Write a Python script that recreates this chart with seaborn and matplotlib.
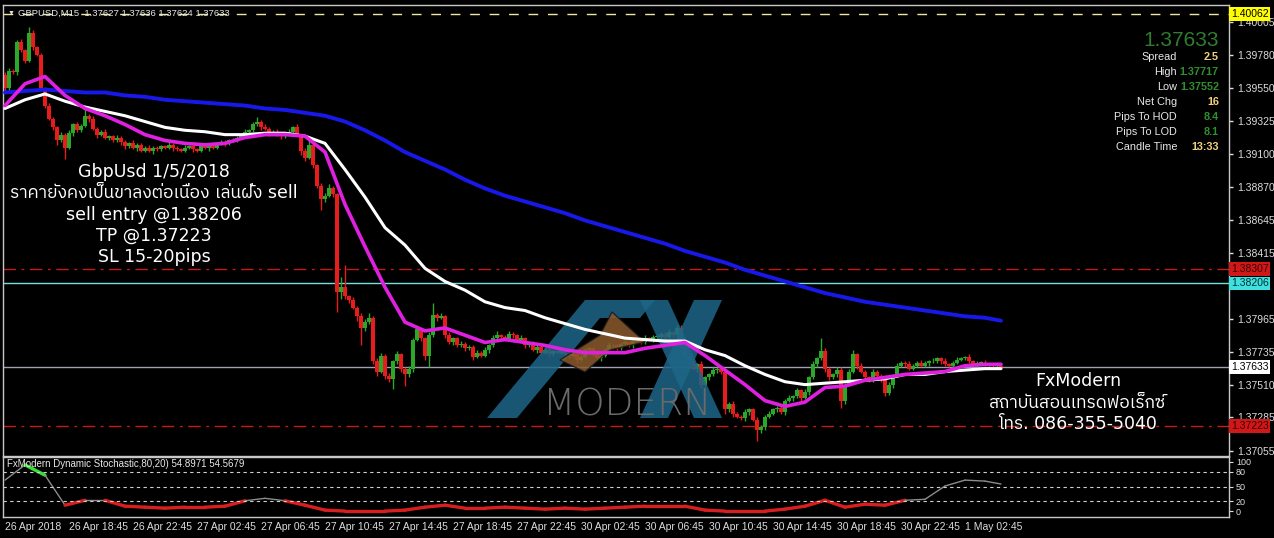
import numpy as np
import pandas as pd
import matplotlib
matplotlib.use('Agg')
import matplotlib.pyplot as plt
from matplotlib import font_manager, ft2font
from matplotlib.patches import Polygon
import seaborn as sns

# ---------------- data ----------------
first_open = 1.3964
closes = [
    1.3955, 1.3967, 1.3966, 1.3987, 1.3981, 1.3974, 1.3993, 1.3983, 1.3978, 1.3955,
    1.3943, 1.3934, 1.3928, 1.3919, 1.3923, 1.3914, 1.3924, 1.3930, 1.3926, 1.3929,
    1.3936, 1.3934, 1.3927, 1.3923, 1.3925, 1.3921, 1.3922, 1.3919, 1.3921, 1.3918,
    1.3915, 1.3917, 1.3914, 1.3916, 1.3912, 1.3914, 1.3912, 1.3914, 1.3913, 1.3915,
    1.3914, 1.3916, 1.3914, 1.3913, 1.3912, 1.3914, 1.3915, 1.3913, 1.3912, 1.3915,
    1.3914, 1.3916, 1.3914, 1.3917, 1.3918, 1.3917, 1.3919, 1.3919, 1.3921, 1.3922,
    1.3925, 1.3926, 1.3930, 1.3932, 1.3928, 1.3927, 1.3924, 1.3925, 1.3923, 1.3922,
    1.3924, 1.3925, 1.3928, 1.3923, 1.3912, 1.3907, 1.3916, 1.3902, 1.3888, 1.3879,
    1.3881, 1.3886, 1.3882, 1.3815, 1.3818, 1.3812, 1.3809, 1.3804, 1.3798, 1.3790,
    1.3794, 1.3797, 1.3767, 1.3760, 1.3771, 1.3757, 1.3755, 1.3767, 1.3772, 1.3762,
    1.3758, 1.3762, 1.3782, 1.3789, 1.3783, 1.3771, 1.3785, 1.3799, 1.3797, 1.3798,
    1.3785, 1.3780, 1.3783, 1.3778, 1.3779, 1.3776, 1.3777, 1.3770, 1.3773, 1.3771,
    1.3775, 1.3778, 1.3783, 1.3785, 1.3784, 1.3782, 1.3786, 1.3785, 1.3782, 1.3783,
    1.3778, 1.3779, 1.3775, 1.3777, 1.3773, 1.3775, 1.3772, 1.3774, 1.3773, 1.3775,
    1.3772, 1.3771, 1.3772, 1.3768, 1.3770, 1.3775, 1.3776, 1.3772, 1.3769, 1.3771,
    1.3775, 1.3778, 1.3778, 1.3776, 1.3779, 1.3780, 1.3778, 1.3781, 1.3782, 1.3780,
    1.3783, 1.3782, 1.3784, 1.3784, 1.3786, 1.3784, 1.3787, 1.3785, 1.3790, 1.3778,
    1.3771, 1.3767, 1.3762, 1.3765, 1.3751, 1.3756, 1.3758, 1.3761, 1.3762, 1.3760,
    1.3734, 1.3738, 1.3731, 1.3729, 1.3728, 1.3732, 1.3734, 1.3727, 1.3720, 1.3722,
    1.3729, 1.3731, 1.3734, 1.3735, 1.3732, 1.3740, 1.3742, 1.3743, 1.3747, 1.3742,
    1.3746, 1.3756, 1.3765, 1.3769, 1.3774, 1.3762, 1.3756, 1.3758, 1.3761, 1.3740,
    1.3751, 1.3760, 1.3772, 1.3764, 1.3760, 1.3756, 1.3754, 1.3760, 1.3757, 1.3754,
    1.3745, 1.3751, 1.3757, 1.3764, 1.3766, 1.3765, 1.3762, 1.3764, 1.3766, 1.3764,
    1.3766, 1.3767, 1.3767, 1.3769, 1.3767, 1.3765, 1.3764, 1.3766, 1.3768, 1.3769,
    1.3770, 1.3767, 1.3765, 1.3766, 1.3766, 1.3765, 1.3765, 1.3764, 1.3764, 1.37633,
]
# wick lengths beyond the body, in pips
upper_wick = [
    2, 2, 1, 1, 2, 1, 4, 2, 1, 1,  1, 2, 1, 1, 2, 1, 2, 1, 2, 1,
    6, 1, 2, 1, 1, 2, 1, 1, 2, 1,  1, 1, 2, 1, 1, 1, 2, 1, 1, 1,
    1, 2, 1, 1, 1, 2, 1, 1, 1, 2,  1, 1, 2, 1, 1, 1, 1, 2, 1, 1,
    2, 1, 2, 3, 1, 2, 1, 1, 2, 1,  1, 2, 1, 2, 1, 2, 3, 3, 1, 2,
    2, 3, 2, 1, 7, 15, 1, 2, 1, 2, 2, 3, 1, 2, 2, 1, 2, 1, 2, 1,
    1, 2, 1, 2, 1, 1, 2, 8, 1, 2,  1, 2, 1, 1, 2, 1, 1, 1, 2, 1,
    2, 1, 2, 3, 1, 1, 2, 1, 1, 2,  1, 1, 2, 1, 1, 2, 1, 1, 1, 2,
    1, 1, 2, 1, 2, 1, 1, 1, 2, 1,  1, 2, 1, 1, 1, 2, 1, 1, 1, 1,
    2, 1, 1, 2, 1, 1, 2, 1, 2, 2,  2, 1, 2, 1, 2, 1, 1, 2, 1, 1,
    2, 1, 2, 1, 1, 2, 1, 1, 2, 1,  1, 2, 1, 1, 2, 1, 2, 1, 2, 1,
    2, 1, 2, 1, 9, 2, 1, 1, 2, 2,  1, 2, 3, 1, 2, 1, 1, 2, 1, 1,
    1, 2, 1, 2, 1, 1, 2, 1, 1, 2,  1, 1, 2, 1, 1, 2, 1, 1, 2, 1,
    1, 2, 1, 1, 1, 2, 1, 1, 1, 1,
]
lower_wick = [
    3, 2, 1, 2, 1, 2, 1, 2, 1, 2,  2, 1, 2, 3, 1, 8, 1, 2, 1, 1,
    1, 2, 1, 2, 1, 1, 2, 1, 1, 2,  2, 1, 1, 2, 1, 1, 1, 2, 1, 1,
    1, 1, 2, 1, 1, 1, 1, 2, 1, 1,  1, 2, 1, 1, 1, 2, 1, 1, 1, 1,
    1, 1, 1, 1, 2, 1, 2, 1, 1, 2,  1, 1, 2, 1, 3, 2, 1, 2, 2, 8,
    2, 1, 2, 14, 5, 2, 2, 1, 3, 12, 2, 1, 2, 3, 1, 2, 2, 7, 2, 2,
    8, 2, 2, 1, 2, 3, 8, 1, 2, 1,  2, 1, 2, 1, 1, 2, 1, 2, 1, 1,
    1, 2, 1, 1, 2, 1, 1, 2, 1, 1,  2, 1, 1, 2, 1, 1, 2, 1, 1, 1,
    1, 2, 1, 2, 1, 1, 2, 1, 1, 2,  1, 1, 2, 1, 1, 1, 1, 2, 1, 1,
    1, 1, 2, 1, 1, 2, 1, 1, 1, 2,  2, 2, 1, 2, 2, 1, 2, 1, 2, 2,
    3, 2, 2, 1, 1, 2, 2, 1, 8, 2,  2, 1, 1, 2, 1, 2, 1, 2, 1, 2,
    1, 2, 1, 2, 1, 2, 2, 1, 2, 5,  2, 1, 1, 2, 1, 2, 1, 1, 2, 1,
    2, 1, 2, 1, 1, 2, 1, 1, 1, 1,  1, 2, 1, 1, 2, 1, 1, 2, 1, 1,
    1, 1, 1, 2, 1, 1, 1, 2, 1, 1,
]

# moving averages, read every 5 bars
ma_idx = list(range(0, 250, 5)) + [249]
ma_blue = [
    1.3952, 1.3953, 1.3954, 1.3953, 1.3952, 1.3952, 1.3950, 1.3949, 1.3947, 1.3946,
    1.3945, 1.3944, 1.3943, 1.3941, 1.3940, 1.3938, 1.3936, 1.3932, 1.3926, 1.3919,
    1.3911, 1.3905, 1.3899, 1.3892, 1.3886, 1.3881, 1.3877, 1.3873, 1.3869, 1.3864,
    1.3860, 1.3856, 1.3852, 1.3848, 1.3843, 1.3839, 1.3835, 1.3830, 1.3826, 1.3822,
    1.3818, 1.3814, 1.3811, 1.3808, 1.3806, 1.3804, 1.3802, 1.3800, 1.3798, 1.3797,
    1.3795,
]
ma_white = [
    1.3941, 1.3947, 1.3951, 1.3946, 1.3942, 1.3939, 1.3936, 1.3932, 1.3928, 1.3926,
    1.3925, 1.3923, 1.3923, 1.3924, 1.3924, 1.3922, 1.3917, 1.3899, 1.3880, 1.3859,
    1.3847, 1.3831, 1.3822, 1.3816, 1.3808, 1.3804, 1.3802, 1.3797, 1.3793, 1.3789,
    1.3786, 1.3783, 1.3782, 1.3781, 1.3781, 1.3775, 1.3771, 1.3764, 1.3758, 1.3753,
    1.3751, 1.3752, 1.3753, 1.3754, 1.3755, 1.3758, 1.3758, 1.3760, 1.3761, 1.3762,
    1.3762,
]
ma_magenta = [
    1.3943, 1.3958, 1.3963, 1.3950, 1.3941, 1.3936, 1.3930, 1.3923, 1.3919, 1.3917,
    1.3916, 1.3917, 1.3921, 1.3923, 1.3923, 1.3922, 1.3911, 1.3875, 1.3846, 1.3818,
    1.3794, 1.3788, 1.3790, 1.3785, 1.3780, 1.3782, 1.3780, 1.3778, 1.3775, 1.3773,
    1.3773, 1.3773, 1.3776, 1.3778, 1.3780, 1.3771, 1.3761, 1.3751, 1.3740, 1.3736,
    1.3739, 1.3749, 1.3750, 1.3754, 1.3756, 1.3758, 1.3759, 1.3760, 1.3764, 1.3765,
    1.3765,
]
stoch = [
    63, 94, 73, 12, 22, 22, 10, 8, 6, 8,
    8, 10, 21, 26, 21, 12, 2, 0, 0, 0,
    2, 8, 12, 6, 6, 8, 6, 4, 6, 4,
    6, 8, 10, 10, 10, 2, 0, 0, 0, 4,
    10, 22, 8, 14, 12, 22, 24, 51, 63, 61,
    55,
]

time_idx = list(range(0, 241, 16))
time_labels = ['26 Apr 2018', '26 Apr 18:45', '26 Apr 22:45', '27 Apr 02:45',
               '27 Apr 06:45', '27 Apr 10:45', '27 Apr 14:45', '27 Apr 18:45',
               '27 Apr 22:45', '30 Apr 02:45', '30 Apr 06:45', '30 Apr 10:45',
               '30 Apr 14:45', '30 Apr 18:45', '30 Apr 22:45', '1 May 02:45']
price_ticks = [1.40005, 1.39780, 1.39550, 1.39325, 1.39100, 1.38870, 1.38645,
               1.38415, 1.37965, 1.37735, 1.37510, 1.37285, 1.37055]
high_line, entry_line, bid_line = 1.40062, 1.38206, 1.37633
sl_line, tp_line = 1.38307, 1.37223

info_labels = ['Spread', 'High', 'Low', 'Net Chg', 'Pips To HOD', 'Pips To LOD', 'Candle Time']
info_values = ['2.5', '1.37717', '1.37552', '16', '8.4', '8.1', '13:33']
info_colors = ['#f0d27a', '#2f8f2f', '#2f8f2f', '#f0d27a', '#2f8f2f', '#2f8f2f', '#f0d27a']

# ---------------- style ----------------
sns.set_style('dark', {'axes.facecolor': 'black', 'figure.facecolor': 'black',
                       'axes.edgecolor': '#c8c8c8', 'axes.grid': False,
                       'xtick.color': '#dcdcdc', 'ytick.color': '#dcdcdc',
                       'text.color': 'white'})
plt.rcParams['font.family'] = ['Liberation Sans', 'DejaVu Sans']

# find a font that has Thai glyphs
thai_family = None
fonts = sorted(font_manager.fontManager.ttflist, key=lambda f: 'Thai' not in f.name)
for fe in fonts:
    try:
        if 0x0E01 in ft2font.FT2Font(fe.fname).get_charmap():
            thai_family = fe.name
            break
    except Exception:
        pass
ann_family = ['DejaVu Sans'] + ([thai_family] if thai_family else [])

W, H = 1274, 538
fig = plt.figure(figsize=(W / 100, H / 100), dpi=100)


def px_box(x0, y0, x1, y1):
    return [x0 / W, 1 - y1 / H, (x1 - x0) / W, (y1 - y0) / H]


ax = fig.add_axes(px_box(3, 5, 1229, 456))
ax2 = fig.add_axes(px_box(3, 457, 1229, 517))

# ---------------- candles ----------------
n = len(closes)
idx = np.arange(n)
c = np.array(closes)
o = np.r_[first_open, c[:-1]]
hi = np.maximum(o, c) + np.array(upper_wick) * 1e-4
lo = np.minimum(o, c) - np.array(lower_wick) * 1e-4
cols = np.where(c >= o, '#2aa82a', '#e81c1c')
ax.vlines(idx, lo, hi, colors=cols, lw=1, zorder=2)
ax.bar(idx, np.maximum(np.abs(c - o), 0.00003), bottom=np.minimum(o, c),
       width=0.78, color=cols, lw=0, zorder=2)

# ---------------- moving averages ----------------
ma = pd.DataFrame({'idx': ma_idx, 'blue': ma_blue, 'white': ma_white, 'magenta': ma_magenta})
sns.lineplot(data=ma, x='idx', y='blue', color='#1818e8', lw=2.8, ax=ax, zorder=4)
sns.lineplot(data=ma, x='idx', y='white', color='white', lw=2.2, ax=ax, zorder=5)
sns.lineplot(data=ma, x='idx', y='magenta', color='#e020e0', lw=2.6, ax=ax, zorder=6)

# ---------------- horizontal levels ----------------
ax.axhline(high_line, color='#eee6a8', lw=1, ls=(0, (7, 7)), zorder=1)
ax.axhline(sl_line, color='#c81818', lw=1, ls=(0, (9, 4, 2, 4)), zorder=1)
ax.axhline(tp_line, color='#c81818', lw=1, ls=(0, (9, 4, 2, 4)), zorder=1)
ax.axhline(entry_line, color='#7adede', lw=1, zorder=1)
ax.axhline(bid_line, color='#a0a0b4', lw=1, zorder=1)

ax.set_xlim(-0.5, 306)
ax.set_ylim(1.37019, 1.40122)
ax.set_xticks([])
ax.set_xlabel('')
ax.set_ylabel('')
ax.yaxis.tick_right()
ax.set_yticks(price_ticks)
ax.set_yticklabels([f'{p:.5f}' for p in price_ticks])
ax.tick_params(axis='y', length=3, width=1, pad=3, labelsize=7.5, colors='#dcdcdc')
for s in ax.spines.values():
    s.set_color('#c8c8c8')
    s.set_linewidth(1)

# price flags on the right scale
ytr = ax.get_yaxis_transform()
for val, fc, tc in [(high_line, '#ffff00', 'black'), (sl_line, '#d01818', '#3a0000'),
                    (entry_line, '#3ee0e0', '#003030'), (bid_line, 'white', 'black'),
                    (tp_line, '#d01818', '#3a0000')]:
    ax.text(1.0015, val, f'{val:.5f}', transform=ytr, ha='left', va='center',
            fontsize=7.5, color=tc, clip_on=False, zorder=10,
            bbox=dict(boxstyle='square,pad=0.18', fc=fc, ec='none'))

# ---------------- watermark logo ----------------
def px_poly(points, **kw):
    pts = [(x / W, 1 - y / H) for x, y in points]
    ax.add_patch(Polygon(pts, closed=True, transform=fig.transFigure, **kw))


px_poly([(487, 418), (517, 418), (600, 318), (640, 318), (655, 300), (585, 300)],
        fc='#1d6688', ec='none', alpha=0.85, zorder=3)
px_poly([(640, 300), (668, 300), (722, 418), (694, 418)], fc='#1d6688', ec='none', alpha=0.85, zorder=3)
px_poly([(694, 300), (722, 300), (668, 418), (640, 418)], fc='#1d6688', ec='none', alpha=0.85, zorder=3)
px_poly([(560, 360), (600, 335), (612, 312), (645, 342), (610, 350), (585, 372)],
        fc='#8a5a2c', ec='#1a1a1a', alpha=0.85, zorder=3)
fig.text(627 / W, 1 - 405 / H, 'MODERN', ha='center', va='center', fontsize=27,
         color='#6a6a6a', family='DejaVu Sans', fontweight='light')

# ---------------- stochastic panel ----------------
sx = np.array(ma_idx)
sv = np.array(stoch, dtype=float)
for k in range(len(sx) - 1):
    m = (sv[k] + sv[k + 1]) / 2
    if m > 80:
        col, lw = '#35e035', 2.4
    elif m < 20:
        col, lw = '#d81e1e', 2.4
    else:
        col, lw = '#8c8c8c', 1.0
    ax2.plot(sx[k:k + 2], sv[k:k + 2], color=col, lw=lw, solid_capstyle='round')
for lvl in (80, 50, 20):
    ax2.axhline(lvl, color='#cfcfcf', lw=0.8, ls=(0, (3, 3)))
ax2.set_xlim(-0.5, 306)
ax2.set_ylim(-12, 110)
ax2.yaxis.tick_right()
ax2.set_yticks([100, 80, 50, 20, 0])
ax2.set_yticklabels(['100', '80', '50', '20', '0'])
ax2.tick_params(axis='y', length=3, pad=2, labelsize=6.5, colors='#dcdcdc')
ax2.set_xticks(time_idx)
ax2.set_xticklabels(time_labels, ha='left')
ax2.tick_params(axis='x', length=3, pad=0.5, labelsize=7.5, colors='#dcdcdc')
for s in ax2.spines.values():
    s.set_color('#c8c8c8')
    s.set_linewidth(1)
ax2.text(4 / 1226, 0.88, 'FxModern Dynamic Stochastic,80,20) 54.8971 54.5679',
         transform=ax2.transAxes, fontsize=7, color='#e8e8e8', va='center')

# ---------------- header and info panel ----------------
fig.text(8 / W, 1 - 13 / H, '\u25bc', fontsize=5, color='#e0e0e0', va='center')
fig.text(18 / W, 1 - 13 / H, 'GBPUSD,M15  1.37627 1.37636 1.37624 1.37633',
         fontsize=6.8, color='#e8e8e8', va='center')
fig.text(1219 / W, 1 - 40 / H, '1.37633', ha='right', va='center', fontsize=15,
         color='#2f7d2f')
for k, (lab, val, vc) in enumerate(zip(info_labels, info_values, info_colors)):
    y = 57 + 15 * k
    fig.text(1177 / W, 1 - y / H, lab, ha='right', va='center', fontsize=7.8, color='#e8e8e8')
    fig.text(1219 / W, 1 - y / H, val, ha='right', va='center', fontsize=7.8,
             color=vc, fontweight='bold')

# ---------------- annotations ----------------
left_lines = ['GbpUsd 1/5/2018', 'ราคายังคงเป็นขาลงต่อเนื่อง เล่นฝั่ง sell',
              'sell entry @1.38206', 'TP @1.37223', 'SL 15-20pips']
for k, t in enumerate(left_lines):
    fig.text(154 / W, 1 - (172 + 21.3 * k) / H, t, ha='center', va='center',
             fontsize=12.5, color='white', family=ann_family)
right_lines = ['FxModern', 'สถาบันสอนเทรดฟอเร็กซ์', 'โทร. 086-355-5040']
for k, t in enumerate(right_lines):
    fig.text(1078 / W, 1 - (381 + 21.5 * k) / H, t, ha='center', va='center',
             fontsize=12.5, color='white', family=ann_family)

fig.savefig('out.png', dpi=100, facecolor='black')
